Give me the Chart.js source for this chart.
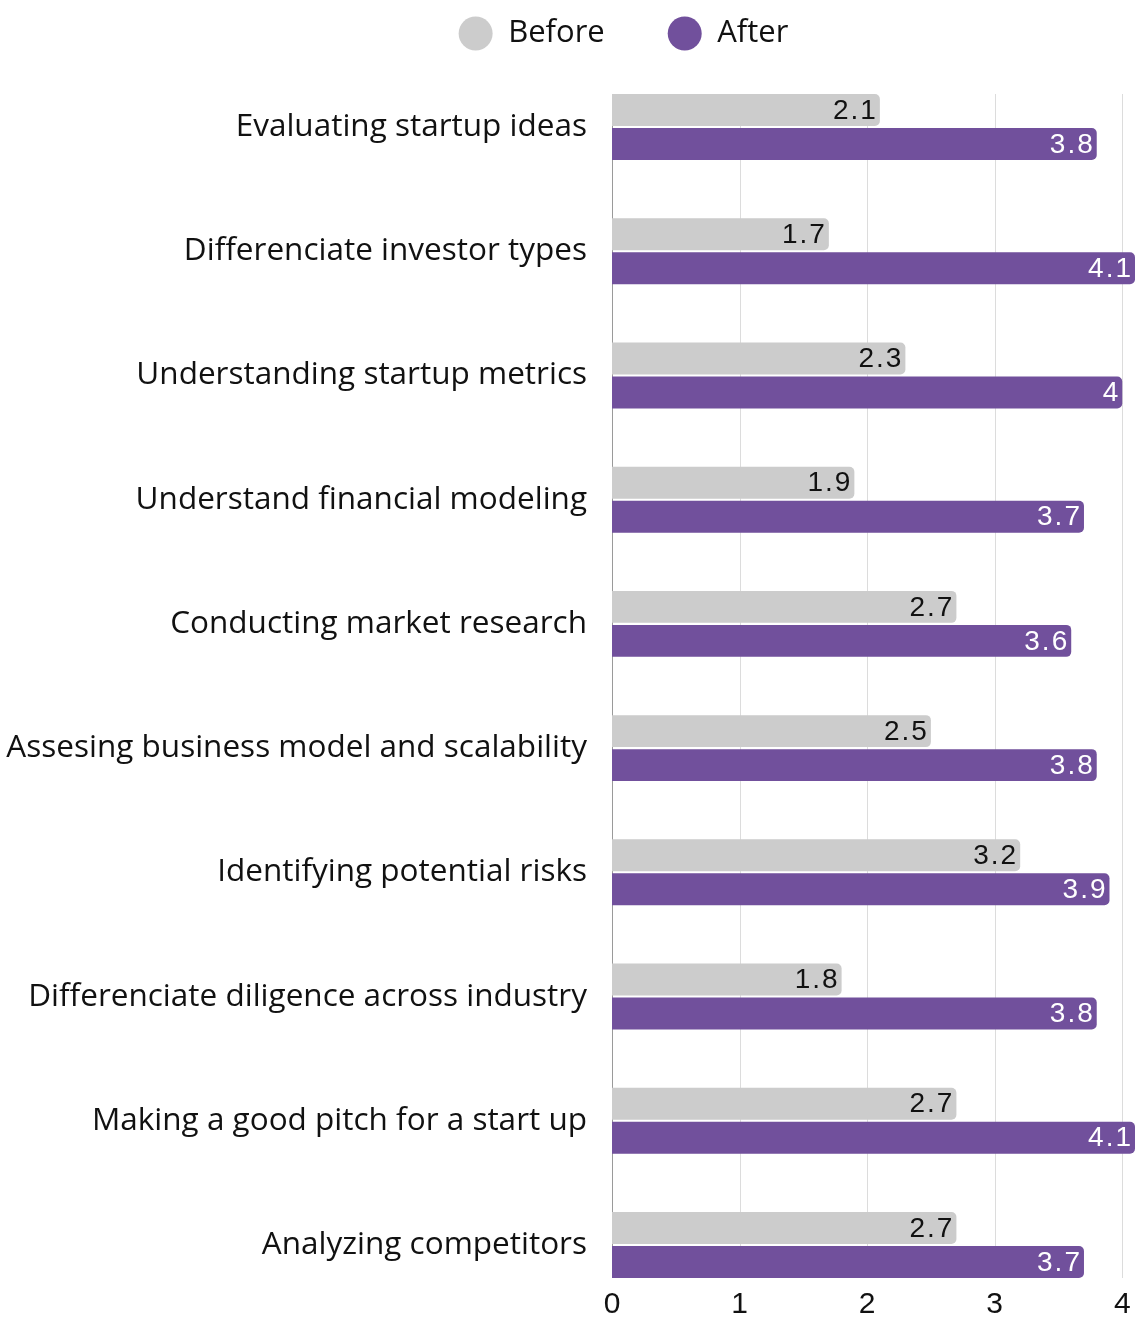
<!DOCTYPE html>
<html>
<head>
<meta charset="utf-8">
<script src="https://cdn.jsdelivr.net/npm/chart.js@4.4.1/dist/chart.umd.min.js"></script>
<style>
    html, body { margin: 0; padding: 0; background: #ffffff; }
    #wrap { width: 1135px; height: 1319px; }
</style>
</head>
<body>
<div id="wrap"><canvas id="myChart"></canvas></div>
<script>
var skills = [
    "Evaluating startup ideas",
    "Differenciate investor types",
    "Understanding startup metrics",
    "Understand financial modeling",
    "Conducting market research",
    "Assesing business model and scalability",
    "Identifying potential risks",
    "Differenciate diligence across industry",
    "Making a good pitch for a start up",
    "Analyzing competitors"
];
var before = [2.1, 1.7, 2.3, 1.9, 2.7, 2.5, 3.2, 1.8, 2.7, 2.7];
var after = [3.8, 4.1, 4, 3.7, 3.6, 3.8, 3.9, 3.8, 4.1, 3.7];
var xTicks = [0, 1, 2, 3, 4];

var labelFont = "'Open Sans', Lato, sans-serif";
var numFont = "'Liberation Sans', Arial, sans-serif";

// vertical grid lines only between the first and the last bar
var gridPlugin = {
    id: 'gridBetweenBars',
    beforeDatasetsDraw: function(chart){
        var xs = chart.scales.x;
        var first = chart.getDatasetMeta(0).data[0];
        var last = chart.getDatasetMeta(1).data[skills.length - 1];
        var top = first.y - first.height / 2;
        var bottom = last.y + last.height / 2;
        var ctx = chart.ctx;
        ctx.save();
        for (var i = 0; i < xTicks.length; i++) {
            var px = Math.round(xs.getPixelForValue(xTicks[i])) + 0.5;
            ctx.strokeStyle = (i == 0) ? '#9a9a9a' : '#dcdcdc';
            ctx.lineWidth = 1;
            ctx.beginPath();
            ctx.moveTo(px, top);
            ctx.lineTo(px, bottom);
            ctx.stroke();
        }
        ctx.restore();
    }
};

// value written inside the end of each bar
var valuePlugin = {
    id: 'valueLabels',
    afterDatasetsDraw: function(chart){
        var ctx = chart.ctx;
        ctx.save();
        ctx.font = "28px " + numFont;
        ctx.textAlign = 'right';
        ctx.textBaseline = 'middle';
        ctx.letterSpacing = '2px';
        chart.data.datasets.forEach(function(ds, d){
            var meta = chart.getDatasetMeta(d);
            ctx.fillStyle = (d == 0) ? '#111111' : '#ffffff';
            meta.data.forEach(function(bar, i){
                ctx.fillText(String(ds.data[i]), bar.x - 2, bar.y + 1);
            });
        });
        ctx.restore();
    }
};

// legend in the original sits a bit right of the page centre
var legendShift = {
    id: 'legendShift',
    afterLayout: function(chart){
        chart.legend.left += 56;
        chart.legend.right += 56;
    }
};

var ctx = document.getElementById('myChart').getContext('2d');
var chart = new Chart(ctx, {
    type: 'bar',
    data: {
        labels: skills,
        datasets: [{
            label: 'Before',
            data: before,
            xAxisID: 'x',
            yAxisID: 'y',
            backgroundColor: '#cccccc',
            borderRadius: 5,
            borderSkipped: 'start',
            categoryPercentage: 0.5475,
            barPercentage: 0.94,
            clip: false
        }, {
            label: 'After',
            data: after,
            xAxisID: 'x',
            yAxisID: 'y',
            backgroundColor: '#71509c',
            borderRadius: 5,
            borderSkipped: 'start',
            categoryPercentage: 0.5475,
            barPercentage: 0.94,
            clip: false
        }]
    },
    options: {
        indexAxis: 'y',
        responsive: true,
        maintainAspectRatio: false,
        animation: false,
        layout: { padding: { top: -45, right: 0, bottom: 0, left: 0 } },
        plugins: {
            legend: {
                position: 'top',
                labels: {
                    usePointStyle: true,
                    pointStyle: 'circle',
                    boxHeight: 24,
                    pointStyleWidth: 34,
                    padding: 63,
                    color: '#111111',
                    font: { family: labelFont, size: 31 }
                }
            },
            tooltip: { enabled: false }
        },
        scales: {
            x: {
                min: 0,
                max: 4.1,
                afterBuildTicks: function(scale){
                    scale.ticks = xTicks.map(function(v){ return { value: v }; });
                },
                afterFit: function(scale){
                    scale.height = 74;
                    scale.paddingLeft = 0;
                    scale.paddingRight = 0;
                },
                grid: { display: false, drawTicks: false },
                border: { display: false },
                ticks: {
                    autoSkip: false,
                    padding: 42,
                    color: '#111111',
                    font: { family: numFont, size: 30 },
                    maxRotation: 0
                }
            },
            y: {
                offset: false,
                afterFit: function(scale){ scale.width = 612; },
                grid: { display: false, drawTicks: false },
                border: { display: false },
                ticks: {
                    padding: 25,
                    color: '#111111',
                    font: { family: labelFont, size: 31.5 }
                }
            },
            // empty spacer between legend and first row
            gap: {
                type: 'linear',
                position: 'top',
                afterFit: function(scale){ scale.height = 68; },
                grid: { display: false },
                border: { display: false },
                ticks: { display: false }
            }
        }
    },
    plugins: [gridPlugin, valuePlugin, legendShift]
});
</script>
</body>
</html>
